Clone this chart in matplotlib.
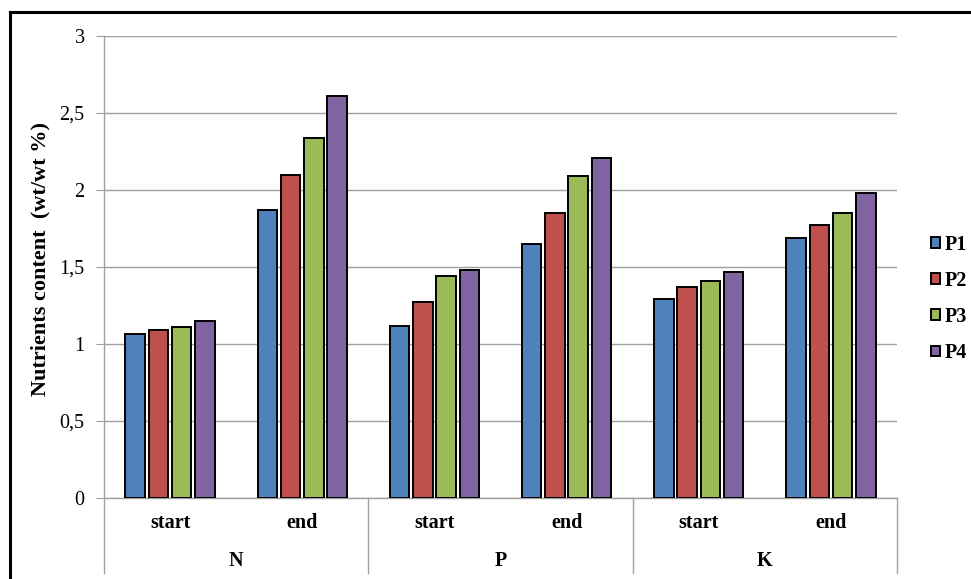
import numpy as np
import matplotlib.pyplot as plt
from matplotlib.lines import Line2D

# Nutrient content data
nutrients = ['N', 'P', 'K']
stages = ['start', 'end']
series = ['P1', 'P2', 'P3', 'P4']
p1 = [1.065, 1.87, 1.12, 1.65, 1.29, 1.69]
p2 = [1.09, 2.10, 1.27, 1.85, 1.37, 1.77]
p3 = [1.11, 2.335, 1.44, 2.09, 1.41, 1.85]
p4 = [1.15, 2.61, 1.48, 2.21, 1.47, 1.98]
y_ticks = [0, 0.5, 1, 1.5, 2, 2.5, 3]
y_tick_labels = ['0', '0,5', '1', '1,5', '2', '2,5', '3']

colors = ['#4F81BD', '#C0504D', '#9BBB59', '#8064A2']
grid_col = '#A0A0A0'
serif = 'Liberation Serif'

fig = plt.figure(figsize=(9.71, 5.79), dpi=100)
ax = fig.add_axes([104 / 971, 1 - 498 / 579, 793 / 971, 462 / 579])

x = np.arange(len(p1)) + 0.5
slot = 0.176
offsets = (np.arange(4) - 1.5) * slot
for vals, off, col, name in zip([p1, p2, p3, p4], offsets, colors, series):
    ax.bar(x + off, vals, width=0.148, color=col, edgecolor='black',
           linewidth=1.4, label=name, zorder=3)

ax.set_xlim(0, 6)
ax.set_ylim(0, 3)
ax.set_yticks(y_ticks)
ax.set_yticklabels(y_tick_labels, fontfamily=serif, fontsize=14.5)
ax.grid(axis='y', color=grid_col, linewidth=1, zorder=0)
ax.tick_params(axis='y', length=6, color=grid_col, pad=8)
ax.tick_params(axis='x', length=0)
ax.set_xticks([])
for s in ['top', 'right']:
    ax.spines[s].set_visible(False)
for s in ['left', 'bottom']:
    ax.spines[s].set_color(grid_col)
    ax.spines[s].set_linewidth(1)

# Two-level category axis
trans = ax.get_xaxis_transform()
drop = -75 / 462
for xs in [0, 2, 4, 6]:
    ax.plot([xs, xs], [0, drop], color=grid_col, linewidth=1,
            transform=trans, clip_on=False)
for i, xc in enumerate(x):
    ax.text(xc, -25 / 462, stages[i % 2], transform=trans, ha='center',
            va='center', fontfamily=serif, fontweight='bold', fontsize=14.5)
for j, nut in enumerate(nutrients):
    ax.text(2 * j + 1, -63 / 462, nut, transform=trans, ha='center',
            va='center', fontfamily=serif, fontweight='bold', fontsize=14.5)

fig.text(40 / 971, 1 - 259 / 579, 'Nutrients content  (wt/wt %)', rotation=90,
         ha='center', va='center', fontfamily=serif, fontweight='bold',
         fontsize=16)

# Legend
leg = ax.legend(loc='center left', bbox_to_anchor=(931 / 971, 1 - 299 / 579),
                bbox_transform=fig.transFigure, frameon=False, borderpad=0,
                borderaxespad=0,
                prop={'family': serif, 'weight': 'bold', 'size': 14.5},
                handlelength=0.45, handleheight=0.45, handletextpad=0.25,
                labelspacing=0.8)

# Outer border of the chart area (left and top edges visible)
fig.lines.append(Line2D([10 / 971, 10 / 971], [0, 1 - 12 / 579],
                        transform=fig.transFigure, color='black', linewidth=2.2))
fig.lines.append(Line2D([10 / 971, 1], [1 - 12 / 579, 1 - 12 / 579],
                        transform=fig.transFigure, color='black', linewidth=2.2))

fig.savefig('out.png', dpi=100, facecolor='white')
